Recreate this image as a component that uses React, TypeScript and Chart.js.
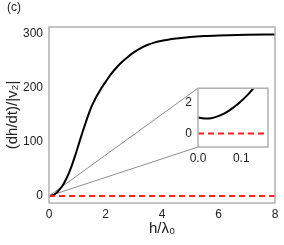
import React, { useEffect, useRef } from 'react';
import { Chart, registerables } from 'chart.js';

Chart.register(...registerables);

// Main curve: h/λ0 vs (dh/dt)/|v2|
const mainX = [0, 0.1, 0.2, 0.3, 0.4, 0.5, 0.6, 0.7, 0.8, 0.9, 1.0, 1.1, 1.2, 1.3, 1.4, 1.5, 1.6, 1.7, 1.8, 1.9, 2.0, 2.2, 2.4, 2.6, 2.8, 3.0, 3.25, 3.5, 3.75, 4.0, 4.5, 5.0, 5.5, 6.0, 7.0, 8.0];
const mainY = [0, 0.8, 3.3, 7.5, 13.5, 21, 30.5, 42, 55.5, 70.5, 87, 104, 120.5, 136, 151, 165, 176, 186, 195, 203.5, 211, 226, 238.5, 249, 258, 266, 274, 280, 284.5, 287.5, 291.5, 294.5, 296.3, 297.3, 298.5, 299];
// Red dashed reference at zero
const baseX = [0, 8];
const baseY = [0, 0];
// Inset curve
const insetX = [0, 0.01, 0.02, 0.03, 0.04, 0.05, 0.06, 0.07, 0.08, 0.09, 0.1, 0.11, 0.12, 0.13, 0.14];
const insetY = [1.05, 1.0, 0.98, 1.0, 1.07, 1.17, 1.3, 1.46, 1.66, 1.88, 2.13, 2.4, 2.7, 3.03, 3.4];
const insetBaseX = [0, 0.17];
const insetBaseY = [0, 0];

// Axis settings
const mainXRange = [0, 8];
const mainYRange = [-12.96, 312.96];
const mainXStep = 2;
const mainYStep = 100;
const insetXRange = [0, 0.1617];
const insetYRange = [-0.89, 2.97];
const insetXStep = 0.1;
const insetYStep = 2;

const FONT = "'Liberation Sans', Arial, sans-serif";
const TEXT = '#222';
const FRAME = '#b0b0b0';
const RED = '#ff1f1f';

const pts = (xs: number[], ys: number[]) => xs.map((x, i) => ({ x, y: ys[i] }));

export default function App() {
  const mainRef = useRef<HTMLCanvasElement>(null);
  const insetRef = useRef<HTMLCanvasElement>(null);

  useEffect(() => {
    document.body.style.margin = '0';
    const frame = (color: string, fill?: string) => ({
      id: 'frame' + (fill ? 'fill' : ''),
      beforeDatasetsDraw(chart: any) {
        if (!fill) return;
        const a = chart.chartArea;
        const ctx = chart.ctx;
        ctx.save();
        ctx.fillStyle = fill;
        ctx.fillRect(a.left, a.top, a.right - a.left, a.bottom - a.top);
        ctx.restore();
      },
      afterDraw(chart: any) {
        const a = chart.chartArea;
        const ctx = chart.ctx;
        ctx.save();
        ctx.strokeStyle = color;
        ctx.lineWidth = 1.5;
        ctx.strokeRect(a.left, a.top, a.right - a.left, a.bottom - a.top);
        ctx.restore();
      },
    });

    const inset = new Chart(insetRef.current!, {
      type: 'line',
      data: {
        datasets: [
          { data: pts(insetBaseX, insetBaseY), borderColor: RED, borderWidth: 2, borderDash: [6, 4], pointRadius: 0, clip: 0 } as any,
          { data: pts(insetX, insetY), borderColor: '#000', borderWidth: 2, pointRadius: 0, cubicInterpolationMode: 'monotone', clip: 0 } as any,
        ],
      },
      options: {
        animation: false,
        responsive: false,
        devicePixelRatio: 1,
        layout: { padding: { left: 0, right: 10, top: 8, bottom: 0 } },
        plugins: { legend: { display: false }, tooltip: { enabled: false } },
        scales: {
          x: {
            type: 'linear', min: insetXRange[0], max: insetXRange[1],
            grid: { display: false, drawTicks: false }, border: { display: false },
            ticks: { stepSize: insetXStep, includeBounds: false, padding: 4, color: TEXT, font: { family: FONT, size: 12 }, maxRotation: 0, callback: (v: any) => Number(v).toFixed(1) },
            afterFit: (s: any) => { s.height = 23; },
          },
          y: {
            type: 'linear', min: insetYRange[0], max: insetYRange[1],
            grid: { display: false, drawTicks: false }, border: { display: false },
            ticks: { stepSize: insetYStep, includeBounds: false, padding: 6, color: TEXT, font: { family: FONT, size: 12 } },
            afterFit: (s: any) => { s.width = 30; },
          },
        },
      } as any,
      plugins: [frame(FRAME, '#fff')],
    });

    const connector = {
      id: 'connector',
      beforeDatasetsDraw(chart: any) {
        const ic = insetRef.current!;
        const a = inset.chartArea;
        const ox = chart.scales.x.getPixelForValue(0);
        const oy = chart.scales.y.getPixelForValue(0);
        const lx = ic.offsetLeft + a.left;
        const ctx = chart.ctx;
        ctx.save();
        ctx.strokeStyle = '#8c8c8c';
        ctx.lineWidth = 1;
        ctx.beginPath();
        ctx.moveTo(ox, oy); ctx.lineTo(lx, ic.offsetTop + a.top);
        ctx.moveTo(ox, oy); ctx.lineTo(lx, ic.offsetTop + a.bottom);
        ctx.stroke();
        ctx.restore();
      },
    };
    const panelLabel = {
      id: 'panelLabel',
      afterDraw(chart: any) {
        const ctx = chart.ctx;
        ctx.save();
        ctx.fillStyle = TEXT;
        ctx.font = `12px ${FONT}`;
        ctx.textBaseline = 'alphabetic';
        ctx.textAlign = 'left';
        ctx.fillText('(c)', 7, 10.5);
        ctx.restore();
      },
    };

    const main = new Chart(mainRef.current!, {
      type: 'line',
      data: {
        datasets: [
          { data: pts(baseX, baseY), borderColor: RED, borderWidth: 2, borderDash: [6, 4], pointRadius: 0 } as any,
          { data: pts(mainX, mainY), borderColor: '#000', borderWidth: 2, pointRadius: 0, cubicInterpolationMode: 'monotone' } as any,
        ],
      },
      options: {
        animation: false,
        responsive: false,
        devicePixelRatio: 1,
        layout: { padding: { left: 0, right: 9, top: 27, bottom: 0 } },
        plugins: { legend: { display: false }, tooltip: { enabled: false } },
        scales: {
          x: {
            type: 'linear', min: mainXRange[0], max: mainXRange[1],
            grid: { display: false, drawTicks: false }, border: { display: false },
            ticks: { stepSize: mainXStep, includeBounds: false, padding: 4, color: TEXT, font: { family: FONT, size: 12 }, maxRotation: 0 },
            title: { display: true, text: 'h/λ₀', color: TEXT, font: { family: FONT, size: 15 }, padding: { top: 0, bottom: 7 } },
            afterFit: (s: any) => { s.height = 42; },
          },
          y: {
            type: 'linear', min: mainYRange[0], max: mainYRange[1],
            grid: { display: false, drawTicks: false }, border: { display: false },
            ticks: { stepSize: mainYStep, includeBounds: false, padding: 6, color: TEXT, font: { family: FONT, size: 12 } },
            title: { display: true, text: '(dh/dt)/|v₂|', color: TEXT, font: { family: FONT, size: 15 }, padding: { top: 4, bottom: 0 } },
            afterFit: (s: any) => { s.width = 49; },
          },
        },
      } as any,
      plugins: [connector, frame(FRAME), panelLabel],
    });

    return () => {
      main.destroy();
      inset.destroy();
    };
  }, []);

  return (
    <div style={{ position: 'relative', width: 284, height: 245 }}>
      <canvas ref={mainRef} width={284} height={245} style={{ position: 'absolute', left: 0, top: 0, width: 284, height: 245 }} />
      <canvas ref={insetRef} width={110} height={95} style={{ position: 'absolute', left: 168, top: 75, width: 110, height: 95 }} />
    </div>
  );
}
